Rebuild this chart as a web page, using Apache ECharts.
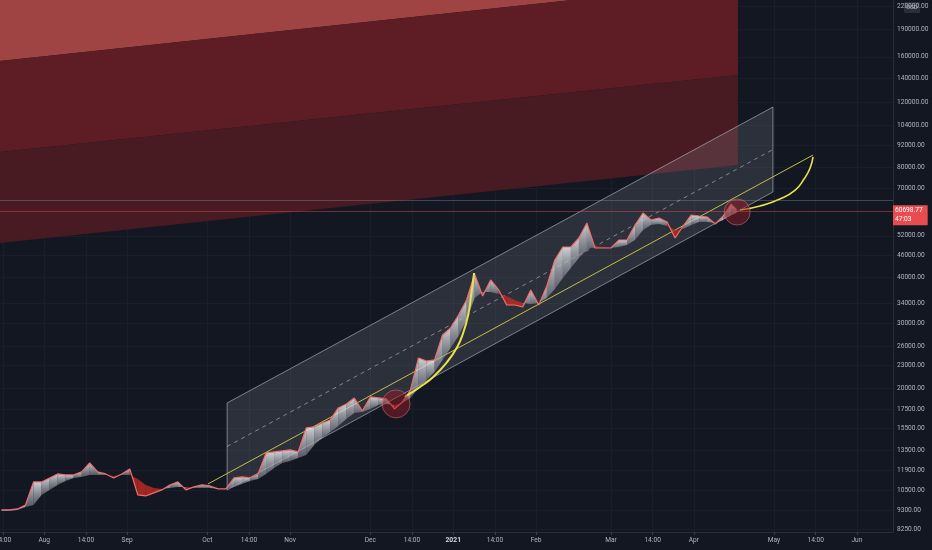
<!DOCTYPE html>
<html>
<head>
<meta charset="utf-8">
<script src="https://cdn.jsdelivr.net/npm/echarts@6/dist/echarts.min.js"></script>
</head>
<body style="margin:0;background:#131722">
<div id="container" style="width:932px;height:550px"></div>
<script>
// BTCUSD, one close every 3 days
var dates = ['2020-07-16','2020-07-19','2020-07-22','2020-07-25','2020-07-28','2020-07-31',
  '2020-08-03','2020-08-06','2020-08-09','2020-08-12','2020-08-15','2020-08-18','2020-08-21','2020-08-24','2020-08-27','2020-08-30',
  '2020-09-02','2020-09-05','2020-09-08','2020-09-11','2020-09-14','2020-09-17','2020-09-20','2020-09-23','2020-09-26','2020-09-29',
  '2020-10-02','2020-10-05','2020-10-08','2020-10-11','2020-10-14','2020-10-17','2020-10-20','2020-10-23','2020-10-26','2020-10-29',
  '2020-11-01','2020-11-04','2020-11-07','2020-11-10','2020-11-13','2020-11-16','2020-11-19','2020-11-22','2020-11-25','2020-11-28',
  '2020-12-01','2020-12-04','2020-12-07','2020-12-10','2020-12-13','2020-12-16','2020-12-19','2020-12-22','2020-12-25','2020-12-28','2020-12-31',
  '2021-01-03','2021-01-06','2021-01-09','2021-01-12','2021-01-15','2021-01-18','2021-01-21','2021-01-24','2021-01-27','2021-01-30',
  '2021-02-02','2021-02-05','2021-02-08','2021-02-11','2021-02-14','2021-02-17','2021-02-20','2021-02-23','2021-02-26',
  '2021-03-01','2021-03-04','2021-03-07','2021-03-10','2021-03-13','2021-03-16','2021-03-19','2021-03-22','2021-03-25','2021-03-28','2021-03-31',
  '2021-04-03','2021-04-06','2021-04-09','2021-04-12','2021-04-15','2021-04-17'];
var closes = [9299,9299,9357,9595,11086,11086,11368,11657,11584,11584,
  11805,12490,11805,11657,11368,11657,12028,10216,10152,10346,
  10544,10878,11086,10544,10743,10878,10810,10611,10611,11368,
  11440,11368,11657,13300,13383,13467,13552,13383,15560,15658,
  16056,16360,17641,18089,18783,17311,18901,18783,18665,17530,
  18318,19750,24144,23694,23844,27895,29148,31628,34750,40908,
  35634,39398,37002,33676,33676,33257,37002,33676,37942,44668,
  48464,48464,51282,56348,48164,48164,48164,50644,50644,55642,
  60000,57418,58146,56704,51282,55292,59250,58878,58514,55994,
  58878,63482,61140];
// lower edge of the moving-average ribbon
var ribbon = [9243,9243,9299,9476,9595,10216,10544,10878,11156,11368,
  11440,11584,11584,11584,11512,11584,11584,11297,10878,10677,
  10611,10677,10743,10743,10677,10677,10677,10611,10611,10743,
  10947,11156,11297,11657,12104,12490,12648,12888,13134,13984,
  14613,15174,15757,16463,17096,17202,17530,17976,18089,17976,
  18203,18783,20000,21030,22114,23844,25708,27720,30650,35190,
  36540,36540,36085,35634,34750,34102,33888,34102,35190,37236,
  39894,42480,45232,47562,48770,48464,48164,48464,49078,50644,
  53922,55642,55994,55292,53922,54262,55642,56704,56704,56348,
  57418,59250,60000];

var priceTicks = [220000,190000,160000,140000,120000,104000,92000,80000,70000,52000,46000,40000,
  34000,30000,26000,23000,20000,17500,15500,13500,11900,10500,9300,8250];
var timeTicks = ['2020-07-16 14:00','2020-08-01','2020-08-16 14:00','2020-09-01','2020-10-01','2020-10-16 14:00',
  '2020-11-01','2020-12-01','2020-12-16 14:00','2021-01-01','2021-01-16 14:00','2021-02-01','2021-03-01',
  '2021-03-16 14:00','2021-04-01','2021-05-01','2021-05-16 14:00','2021-06-01'];
var timeLabels = ['14:00','Aug','14:00','Sep','Oct','14:00','Nov','Dec','14:00','2021','14:00','Feb','Mar',
  '14:00','Apr','May','14:00','Jun'];

var lastPrice = 60698.77;
var countdown = '47:03';
var levelLine = 65100;

// red projection zones (edges at start / end date)
var zoneDates = ['2020-07-15 11:00','2021-04-17 12:00'];
var zoneEdgeA = [155800, 255400];
var zoneEdgeB = [87980, 142700];
var zoneEdgeC = [49700, 81100];
var zoneCeil = 400000;

// regression channel
var chanDates = ['2020-10-08 10:00','2021-04-30 14:00'];
var chanTop = [18200, 116700];
var chanMid = [13850, 89380];
var chanBot = [10540, 68460];

// yellow trend line and parabolic curves
var trendDates = ['2020-10-01 07:00','2021-05-15 14:00'];
var trendVals = [10950, 86340];
var curve1Dates = ['2020-12-13 21:00','2020-12-19 14:00','2020-12-24 12:00','2020-12-29 17:00','2021-01-02 12:00',
  '2021-01-04 17:00','2021-01-06 14:00','2021-01-07 17:00','2021-01-08 19:00'];
var curve1Vals = [18901,20126,21430,23546,25870,28248,31628,35860,41168];
var curve2Dates = ['2021-04-18 07:00','2021-04-25 19:00','2021-05-03 05:00','2021-05-08 22:00',
  '2021-05-12 05:00','2021-05-14 12:00','2021-05-15 14:00'];
var curve2Vals = [61140,62690,65510,69280,74260,79610,85340];

var circleDates = ['2020-12-10 15:00','2021-04-17 05:00'];
var circleVals = [18089, 60370];

function ts(s) {
  var m = s.match(/(\d+)-(\d+)-(\d+)(?: (\d+):(\d+))?/);
  return new Date(+m[1], m[2] - 1, +m[3], +(m[4] || 0), +(m[5] || 0)).getTime();
}
function pairs(ds, vs) {
  return ds.map(function (d, i) { return [ts(d), vs[i]]; });
}
var tickTimes = timeTicks.map(ts);

var zones = [
  { pts: [[0, zoneEdgeA[0]], [1, zoneEdgeA[1]], [1, zoneCeil], [0, zoneCeil]], color: '#9f4343' },
  { pts: [[0, zoneEdgeA[0]], [1, zoneEdgeA[1]], [1, zoneEdgeB[1]], [0, zoneEdgeB[0]]], color: '#5e1d24' },
  { pts: [[0, zoneEdgeB[0]], [1, zoneEdgeB[1]], [1, zoneEdgeC[1]], [0, zoneEdgeC[0]]], color: '#481a22' }
];

var gridColor = '#1a1e2b';
var labelColor = '#b2b5be';
var font = 'Roboto';

var dom = document.getElementById('container');
var myChart = echarts.init(dom);

var upFill = new echarts.graphic.LinearGradient(0, 0, 0, 1, [
  { offset: 0, color: 'rgba(238,239,243,0.85)' },
  { offset: 1, color: 'rgba(140,143,152,0.55)' }
]);
var downFill = 'rgba(196,44,34,0.8)';

var gridLines = priceTicks.map(function (v) { return { yAxis: v }; })
  .concat(tickTimes.map(function (t) { return { xAxis: t, label: { show: false } }; }));

option = {
  backgroundColor: '#131722',
  animation: false,
  grid: { left: 0, right: 39, top: 0, bottom: 18, containLabel: false, outerBoundsMode: 'none' },
  xAxis: {
    type: 'value',
    min: ts('2020-07-15 11:00'),
    max: ts('2021-06-14 12:00'),
    axisLine: { lineStyle: { color: '#2a2e39' } },
    axisTick: { customValues: tickTimes, length: 3, lineStyle: { color: '#3a3e49' } },
    splitLine: { show: false },
    axisLabel: {
      customValues: tickTimes,
      margin: 5,
      color: labelColor,
      fontSize: 6.6,
      fontFamily: font,
      hideOverlap: false,
      formatter: function (val) {
        var i = tickTimes.indexOf(val);
        var s = i >= 0 ? timeLabels[i] : '';
        return s === '2021' ? '{b|2021}' : s;
      },
      rich: { b: { fontWeight: 'bold', fontSize: 6.8, color: '#d1d4dc', fontFamily: font } }
    }
  },
  yAxis: {
    type: 'log',
    position: 'right',
    min: 8095,
    max: 228600,
    axisLine: { show: true, lineStyle: { color: '#2a2e39' } },
    axisTick: { show: false },
    axisLabel: { show: false },
    splitLine: { show: false }
  },
  graphic: [{
    type: 'group',
    right: 12,
    top: 2,
    z: 100,
    children: [
      { type: 'rect', shape: { x: 0, y: 0, width: 16, height: 11, r: 1 }, style: { fill: '#2a2e39' } },
      { type: 'text', x: 8, y: 5.5, style: { text: 'USD', fill: labelColor, fontSize: 6, fontFamily: font, align: 'center', verticalAlign: 'middle' } }
    ]
  }],
  series: [
    {
      name: 'grid',
      type: 'line',
      data: [],
      z: 1,
      markLine: {
        z: 1,
        silent: true,
        symbol: ['none', 'none'],
        lineStyle: { color: gridColor, width: 1, type: 'solid' },
        label: {
          position: 'end',
          distance: 4,
          color: labelColor,
          fontSize: 6.6,
          fontFamily: font,
          formatter: function (p) { return p.value.toFixed(2); }
        },
        data: gridLines
      }
    },
    {
      name: 'zones',
      type: 'custom',
      z: 2,
      silent: true,
      data: zones.map(function (z, i) { return [ts(zoneDates[0]), zoneEdgeA[0], i]; }),
      renderItem: function (params, api) {
        var z = zones[params.dataIndex];
        var pts = z.pts.map(function (p) { return api.coord([ts(zoneDates[p[0]]), p[1]]); });
        return { type: 'polygon', shape: { points: pts }, style: { fill: z.color } };
      }
    },
    {
      name: 'channel',
      type: 'custom',
      z: 3,
      silent: true,
      data: [[ts(chanDates[0]), chanTop[0]]],
      renderItem: function (params, api) {
        var pts = [
          api.coord([ts(chanDates[0]), chanTop[0]]),
          api.coord([ts(chanDates[1]), chanTop[1]]),
          api.coord([ts(chanDates[1]), chanBot[1]]),
          api.coord([ts(chanDates[0]), chanBot[0]])
        ];
        return {
          type: 'polygon',
          shape: { points: pts },
          style: { fill: 'rgba(190,195,210,0.15)', stroke: 'rgba(200,204,214,0.55)', lineWidth: 1 }
        };
      }
    },
    {
      name: 'channel mid',
      type: 'line',
      z: 4,
      silent: true,
      showSymbol: false,
      data: pairs(chanDates, chanMid),
      lineStyle: { color: 'rgba(200,204,214,0.55)', width: 1, type: [4, 4] }
    },
    {
      name: 'trend',
      type: 'line',
      z: 5,
      silent: true,
      showSymbol: false,
      data: pairs(trendDates, trendVals),
      lineStyle: { color: '#c3bf45', width: 1 }
    },
    {
      name: 'ribbon',
      type: 'custom',
      z: 6,
      silent: true,
      data: dates.map(function (d, i) { return [ts(d), closes[i], ribbon[i]]; }),
      renderItem: function (params, api) {
        var i = params.dataIndex;
        if (i >= dates.length - 1) return;
        var x0 = ts(dates[i]), x1 = ts(dates[i + 1]);
        var pts = [
          api.coord([x0, closes[i]]), api.coord([x1, closes[i + 1]]),
          api.coord([x1, ribbon[i + 1]]), api.coord([x0, ribbon[i]])
        ];
        var up = closes[i] + closes[i + 1] >= ribbon[i] + ribbon[i + 1];
        return { type: 'polygon', shape: { points: pts }, style: { fill: up ? upFill : downFill } };
      }
    },
    {
      name: 'BTCUSD',
      type: 'line',
      z: 7,
      silent: true,
      showSymbol: false,
      data: pairs(dates, closes),
      lineStyle: { color: '#ef6f6c', width: 1.2 }
    },
    {
      name: 'curve1',
      type: 'line',
      z: 8,
      silent: true,
      smooth: true,
      showSymbol: false,
      data: pairs(curve1Dates, curve1Vals),
      lineStyle: { color: '#e9e24c', width: 2 }
    },
    {
      name: 'curve2',
      type: 'line',
      z: 8,
      silent: true,
      smooth: true,
      showSymbol: false,
      data: pairs(curve2Dates, curve2Vals),
      lineStyle: { color: '#e9e24c', width: 1.6 }
    },
    {
      name: 'circles',
      type: 'scatter',
      z: 9,
      silent: true,
      data: pairs(circleDates, circleVals),
      symbolSize: function (v, p) { return p.dataIndex === 0 ? 28 : 26; },
      itemStyle: { color: 'rgba(150,28,38,0.6)', borderColor: 'rgba(240,140,140,0.55)', borderWidth: 1 }
    },
    {
      name: 'levels',
      type: 'line',
      data: [],
      z: 20,
      markLine: {
        z: 20,
        silent: true,
        symbol: ['none', 'none'],
        data: [
          {
            yAxis: levelLine,
            label: { show: false },
            lineStyle: { color: 'rgba(150,155,170,0.35)', width: 1, type: 'solid' }
          },
          {
            yAxis: lastPrice,
            lineStyle: { color: 'rgba(232,76,81,0.45)', width: 1, type: 'solid' },
            label: {
              show: true,
              position: 'end',
              distance: 0,
              offset: [0, 4],
              formatter: lastPrice.toFixed(2) + '\n' + countdown,
              backgroundColor: '#e84c51',
              color: '#ffffff',
              fontSize: 6.6,
              lineHeight: 9,
              fontFamily: font,
              padding: [1, 5, 1, 2]
            }
          }
        ]
      }
    }
  ]
};
myChart.setOption(option, true);
</script>
</body>
</html>
